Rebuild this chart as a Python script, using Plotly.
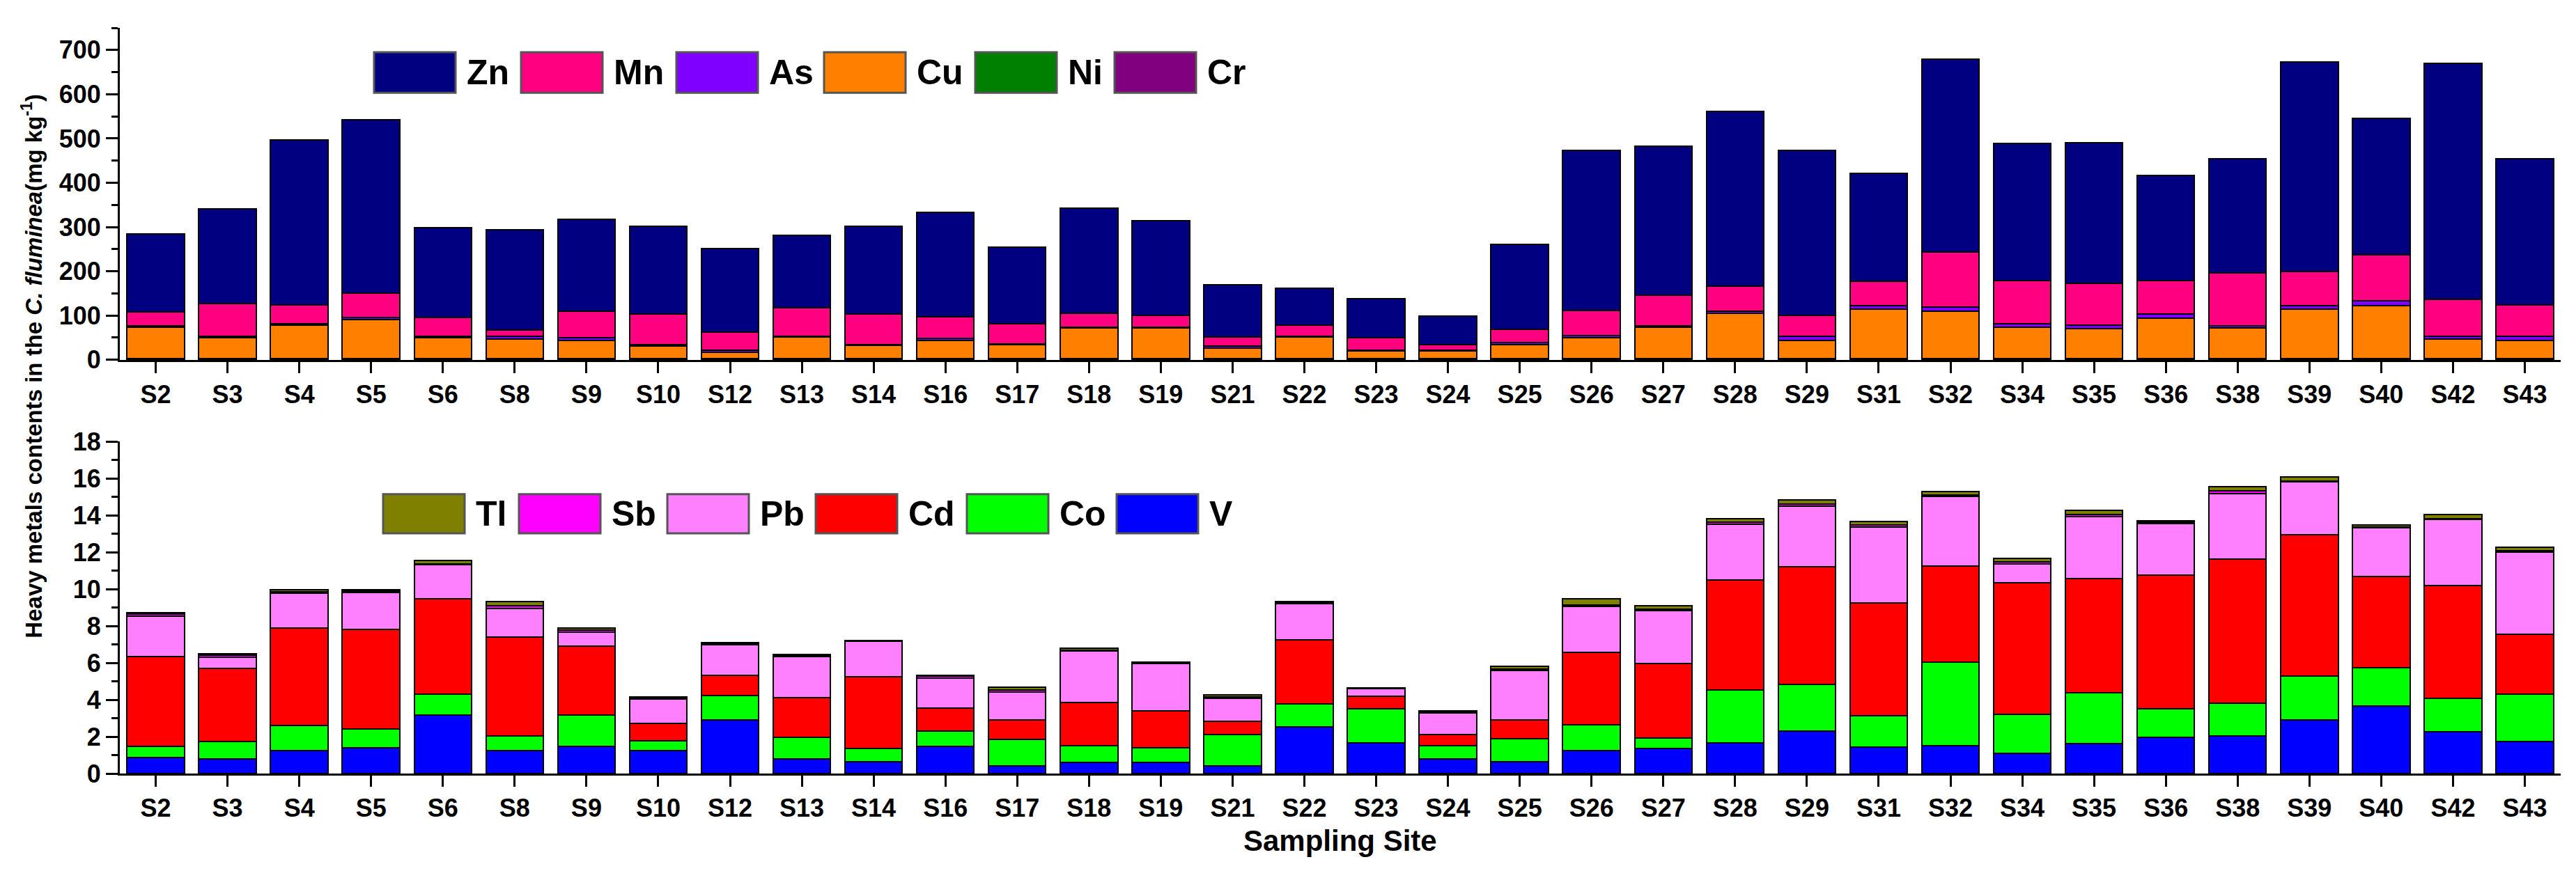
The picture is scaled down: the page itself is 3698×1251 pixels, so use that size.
import plotly.graph_objects as go

W, H = 3698, 1251
ML, MR, MT, MB = 164, 30, 18, 148

sites = ["S2", "S3", "S4", "S5", "S6", "S8", "S9", "S10", "S12", "S13", "S14",
         "S16", "S17", "S18", "S19", "S21", "S22", "S23", "S24", "S25", "S26",
         "S27", "S28", "S29", "S31", "S32", "S34", "S35", "S36", "S38", "S39",
         "S40", "S42", "S43"]

# upper panel, mg kg-1 (stacked bottom -> top: Cr, Ni, Cu, As, Mn, Zn)
cr = [1.0, 1.0, 1.2, 1.0, 1.0, 1.0, 1.0, 1.0, 1.0, 1.0, 1.0, 1.0, 1.0, 1.0, 1.0,
      1.0, 1.0, 1.0, 1.0, 1.0, 1.0, 1.0, 1.0, 1.0, 1.0, 1.2, 1.2, 1.0, 1.0, 1.0,
      1.0, 1.0, 1.2, 1.0]
ni = [1.5, 1.5, 1.5, 1.5, 1.5, 1.5, 1.5, 1.5, 1.5, 1.5, 1.5, 1.5, 1.5, 1.5, 1.5,
      1.5, 1.5, 1.5, 1.5, 1.5, 1.5, 1.5, 1.5, 1.5, 1.5, 1.5, 1.5, 1.5, 1.5, 1.5,
      1.5, 1.5, 1.5, 1.5]
cu = [70.5, 47.5, 75.5, 88.5, 47.5, 44.5, 40.5, 28.5, 14.5, 49.5, 30.5, 41.5,
      31.5, 69.5, 69.5, 24.5, 48.5, 17.5, 17.5, 32.5, 47.5, 70.5, 102.5, 41.5,
      111.5, 107.5, 70.5, 67.5, 91.5, 69.5, 111.5, 120.5, 44.5, 40.5]
as_ = [3, 3, 4, 5, 3, 6, 7, 4, 4, 1, 2, 4, 2, 1, 1, 4, 2, 2, 2, 4, 5, 3, 5, 9,
       8, 9, 9, 9, 9, 5, 9, 10, 6, 10]
mn = [32, 74, 41, 55, 43, 15, 60, 68, 41, 65, 68, 49, 45, 32, 27, 20, 26, 28,
      13, 30, 56, 70, 56, 47, 55, 125, 97, 94, 76, 120, 77, 104, 84, 71]
zn = [177, 214, 374, 391, 202, 226, 208, 198, 190, 164, 198, 236, 174, 237,
      215, 119, 83, 88, 64, 191, 362, 336, 395, 373, 245, 435, 310, 317, 238,
      257, 473, 309, 533, 330]

# lower panel, mg kg-1 (stacked bottom -> top: V, Co, Cd, Pb, Sb, Tl)
v = [0.87, 0.79, 1.23, 1.41, 3.16, 1.23, 1.49, 1.23, 2.92, 0.79, 0.66, 1.49,
     0.41, 0.59, 0.62, 0.41, 2.54, 1.66, 0.79, 0.66, 1.25, 1.36, 1.66, 2.31,
     1.44, 1.52, 1.08, 1.61, 1.97, 2.05, 2.89, 3.66, 2.26, 1.74]
co = [0.62, 0.95, 1.39, 1.02, 1.15, 0.82, 1.67, 0.54, 1.31, 1.19, 0.70, 0.81,
      1.44, 0.93, 0.79, 1.69, 1.23, 1.86, 0.73, 1.23, 1.39, 0.57, 2.86, 2.54,
      1.69, 4.51, 2.12, 2.78, 1.55, 1.77, 2.41, 2.09, 1.81, 2.57]
cd = [4.87, 3.96, 5.27, 5.37, 5.17, 5.34, 3.74, 0.95, 1.10, 2.12, 3.89, 1.24,
      1.04, 2.33, 2.00, 0.74, 3.49, 0.66, 0.61, 1.00, 3.92, 4.05, 5.99, 6.35,
      6.13, 5.22, 7.13, 6.20, 7.23, 7.79, 7.65, 4.95, 6.11, 3.25]
pb = [2.18, 0.61, 1.88, 2.00, 1.83, 1.56, 0.77, 1.31, 1.64, 2.23, 1.93, 1.64,
      1.54, 2.79, 2.57, 1.23, 1.94, 0.41, 1.15, 2.68, 2.51, 2.84, 3.01, 3.28,
      4.12, 3.77, 1.03, 3.34, 2.79, 3.55, 2.87, 2.63, 3.61, 4.46]
sb = [0.10, 0.10, 0.10, 0.10, 0.06, 0.16, 0.10, 0.05, 0.07, 0.06, 0.02, 0.10,
      0.09, 0.06, 0.03, 0.10, 0.07, 0.03, 0.07, 0.10, 0.08, 0.09, 0.10, 0.12,
      0.10, 0.08, 0.10, 0.13, 0.10, 0.15, 0.05, 0.05, 0.04, 0.05]
tl = [0.10, 0.07, 0.10, 0.07, 0.20, 0.20, 0.12, 0.07, 0.06, 0.05, 0.01, 0.05,
      0.15, 0.10, 0.02, 0.11, 0.07, 0.02, 0.06, 0.15, 0.33, 0.20, 0.20, 0.24,
      0.18, 0.20, 0.20, 0.20, 0.06, 0.26, 0.20, 0.11, 0.20, 0.19]

upper = [("Cr", cr, "#800080"), ("Ni", ni, "#008000"), ("Cu", cu, "#FF8000"),
         ("As", as_, "#8000FF"), ("Mn", mn, "#FF0080"), ("Zn", zn, "#000080")]
lower = [("V", v, "#0000FF"), ("Co", co, "#00FF00"), ("Cd", cd, "#FF0000"),
         ("Pb", pb, "#FF80FF"), ("Sb", sb, "#FF00FF"), ("Tl", tl, "#808000")]

FONT = "Liberation Sans Narrow, Arial Narrow, Liberation Sans, Arial, sans-serif"

pw = W - ML - MR
ph = H - MT - MB


def px_x(x):
    return (x - ML) / pw


def px_y(y):
    return (H - MB - y) / ph


fig = go.Figure()
for name, vals, col in upper:
    fig.add_trace(go.Bar(x=sites, y=vals, name=name, marker_color=col,
                         marker_line=dict(color="black", width=2),
                         xaxis="x", yaxis="y", showlegend=False))
for name, vals, col in lower:
    fig.add_trace(go.Bar(x=sites, y=vals, name=name, marker_color=col,
                         marker_line=dict(color="black", width=2),
                         xaxis="x2", yaxis="y2", showlegend=False))

tick_font = dict(family=FONT, size=36, color="black", weight="bold")
top_dom = [px_y(501), 1.0]
bot_dom = [0.0, px_y(620)]

cat_axis = dict(type="category", range=[-0.5, len(sites) - 0.5], showline=True,
                linecolor="black", linewidth=3, ticks="outside", ticklen=16,
                tickwidth=3, tickcolor="black", tickfont=tick_font,
                showgrid=False, zeroline=False)
edge_axis = dict(range=[-0.5, len(sites) - 0.5], tickmode="linear", tick0=-0.5,
                 dtick=1, ticks="outside", ticklen=8, tickwidth=3,
                 tickcolor="black", showticklabels=False, showline=False,
                 showgrid=False, zeroline=False)

fig.update_layout(
    width=W, height=H,
    margin=dict(l=ML, r=MR, t=MT, b=MB, pad=0),
    paper_bgcolor="white", plot_bgcolor="white",
    barmode="stack", bargap=0.2,
    xaxis=dict(cat_axis, anchor="y"),
    xaxis2=dict(cat_axis, anchor="y2"),
    xaxis3=dict(edge_axis, overlaying="x", anchor="y", side="bottom"),
    xaxis4=dict(edge_axis, overlaying="x2", anchor="y2", side="bottom"),
    yaxis=dict(domain=top_dom, range=[0, 750], tickvals=list(range(0, 701, 100)),
               showline=True, linecolor="black", linewidth=3, ticks="outside",
               ticklen=17, tickwidth=3, tickcolor="black", tickfont=tick_font,
               minor=dict(tickvals=list(range(50, 751, 100)), ticks="outside",
                          ticklen=9, tickwidth=3, tickcolor="black"),
               showgrid=False, zeroline=False),
    yaxis2=dict(domain=bot_dom, range=[0, 18], tickvals=list(range(0, 19, 2)),
                showline=True, linecolor="black", linewidth=3, ticks="outside",
                ticklen=17, tickwidth=3, tickcolor="black", tickfont=tick_font,
                minor=dict(tickvals=list(range(1, 18, 2)), ticks="outside",
                           ticklen=9, tickwidth=3, tickcolor="black"),
                showgrid=False, zeroline=False),
)

# hand-made legends with wide swatches, as in the original
legend_top = ["Zn", "Mn", "As", "Cu", "Ni", "Cr"]
legend_top_x = [529, 740, 963, 1175, 1392, 1592]
legend_bot = ["Tl", "Sb", "Pb", "Cd", "Co", "V"]
legend_bot_x = [542, 737, 950, 1163, 1380, 1595]
colors = {n: c for n, _, c in upper + lower}


def add_legend(names, lefts, yc, h):
    for name, x0 in zip(names, lefts):
        fig.add_shape(type="rect", xref="paper", yref="paper",
                      x0=px_x(x0), x1=px_x(x0 + 117),
                      y0=px_y(yc + h / 2), y1=px_y(yc - h / 2),
                      fillcolor=colors[name], line=dict(color="#555555", width=3))
        fig.add_annotation(x=px_x(x0 + 131), y=px_y(yc), xref="paper", yref="paper",
                           text=name, showarrow=False, xanchor="left", yanchor="middle",
                           font=dict(family=FONT, size=50, color="black", weight="bold"))


add_legend(legend_top, legend_top_x, 83, 59)
add_legend(legend_bot, legend_bot_x, 725, 57)

fig.add_annotation(x=px_x(38), y=px_y(510), xref="paper", yref="paper",
                   text="Heavy metals contents in the <i>C. fluminea</i>(mg kg<sup>-1</sup>)",
                   textangle=-90, showarrow=False, xanchor="center", yanchor="middle",
                   font=dict(family=FONT, size=33, color="black", weight="bold"))
fig.add_annotation(x=0.5, y=px_y(1201), xref="paper", yref="paper",
                   text="Sampling Site", showarrow=False, xanchor="center",
                   yanchor="middle",
                   font=dict(family=FONT, size=42, color="black", weight="bold"))

fig.write_html("out.html")
